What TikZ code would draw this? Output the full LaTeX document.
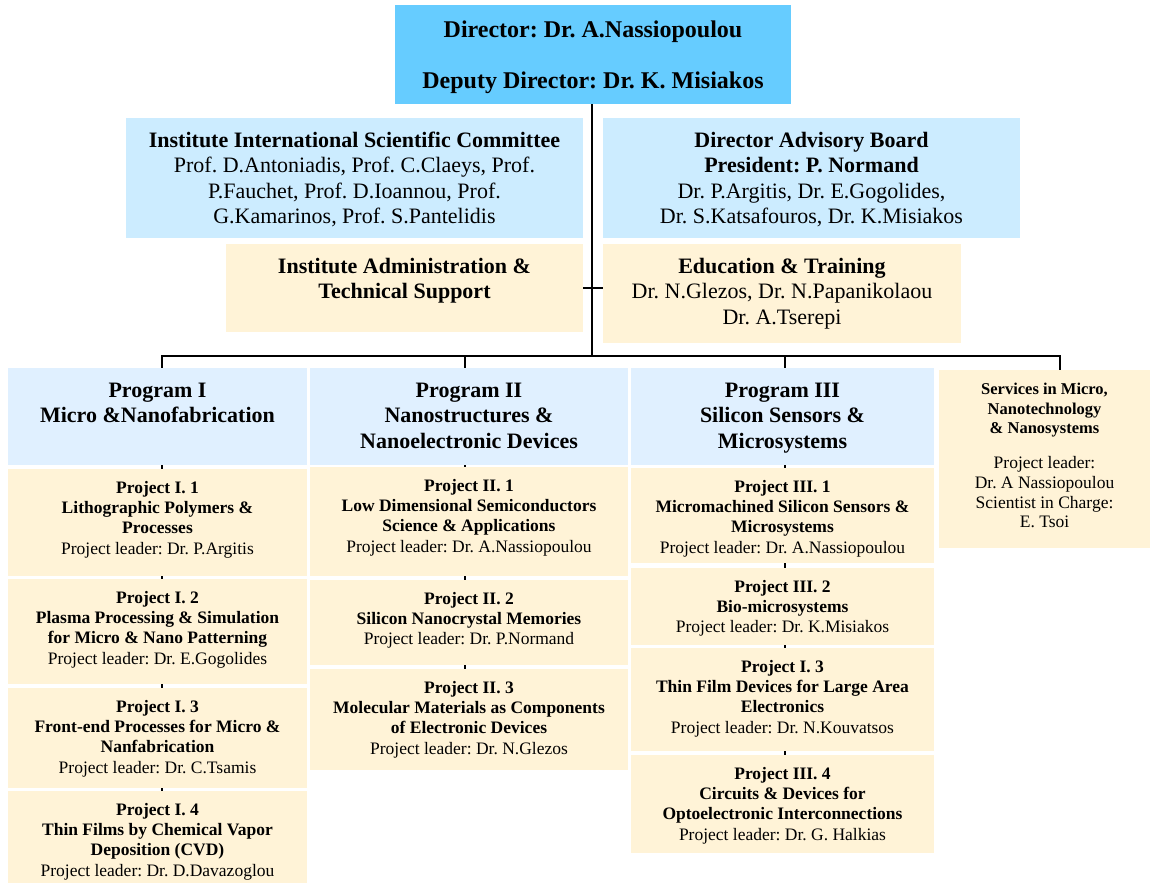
\documentclass[tikz,border=0pt]{standalone}
\usepackage{fontspec}
\setmainfont{Liberation Serif}
\usetikzlibrary{backgrounds}
\definecolor{dirblue}{RGB}{102,204,255}
\definecolor{boardblue}{RGB}{204,236,255}
\definecolor{progblue}{RGB}{224,240,255}
\definecolor{cream}{RGB}{255,243,215}
\frenchspacing
\newcommand{\mycell}[4]{\parbox[c][#2pt][t]{#1pt}{\centering\vspace*{#3pt}\strut#4}}
\begin{document}
\begin{tikzpicture}[x=1pt,y=-1pt,
  cell/.style={inner sep=0pt,outer sep=0pt,anchor=north west},
  big/.style={cell,font=\fontsize{22}{25.3}\selectfont},
  bigb/.style={cell,font=\fontsize{22}{25.3}\selectfont\bfseries},
  small/.style={cell,font=\fontsize{17.5}{20.2}\selectfont},
  conn/.style={draw=black,line width=1.2pt}]
\useasboundingbox (0,0) rectangle (1150,883);
% top level
\node[cell,fill=dirblue,font=\fontsize{24}{27.6}\selectfont\bfseries] (dir) at (395,5)
  {\mycell{396}{99}{12.7}{Director: Dr. A.Nassiopoulou\\[23.4pt] Deputy Director: Dr. K. Misiakos}};
\node[big,fill=boardblue] (com) at (126,118)
  {\mycell{457}{120}{11.8}{{\bfseries Institute International Scientific Committee}\\ Prof. D.Antoniadis, Prof. C.Claeys, Prof.\\ P.Fauchet, Prof. D.Ioannou, Prof.\\ G.Kamarinos, Prof. S.Pantelidis}};
\node[big,fill=boardblue] (adv) at (603,118)
  {\mycell{417}{120}{11.8}{{\bfseries Director Advisory Board\\ President: P. Normand}\\ Dr. P.Argitis, Dr. E.Gogolides,\\ Dr. S.Katsafouros, Dr. K.Misiakos}};
\node[bigb,fill=cream] (adm) at (226,244)
  {\mycell{357}{88}{11.8}{Institute Administration \&\\ Technical Support}};
\node[big,fill=cream] (edu) at (603,244)
  {\mycell{358}{99}{11.8}{{\bfseries Education \& Training}\\ Dr. N.Glezos, Dr. N.Papanikolaou\\ Dr. A.Tserepi}};
% programs
\node[bigb,fill=progblue] (p1) at (8,368)
  {\mycell{299}{97}{11.8}{Program I\\ Micro \&Nanofabrication}};
\node[bigb,fill=progblue] (p2) at (310,368)
  {\mycell{318}{97}{11.8}{Program II\\ Nanostructures \&\\ Nanoelectronic Devices}};
\node[bigb,fill=progblue] (p3) at (631,368)
  {\mycell{303}{97}{11.8}{Program III\\ Silicon Sensors \&\\ Microsystems}};
\node[cell,fill=cream,font=\fontsize{17.5}{19.6}\selectfont] (sv) at (939,370)
  {\mycell{211}{178}{10.8}{{\fontsize{16.5}{19.6}\selectfont\bfseries Services in Micro,\\ Nanotechnology\\ \& Nanosystems}\\[15.5pt] Project leader:\\ Dr. A Nassiopoulou\\ Scientist in Charge:\\ E. Tsoi}};
% program I projects
\node[small,fill=cream] (i1) at (8,469)
  {\mycell{299}{107}{10.4}{{\bfseries Project I. 1\\ Lithographic Polymers \&\\ Processes}\\ Project leader: Dr. P.Argitis}};
\node[small,fill=cream] (i2) at (8,579)
  {\mycell{299}{105}{10.4}{{\bfseries Project I. 2\\ Plasma Processing \& Simulation\\ for Micro \& Nano Patterning}\\ Project leader: Dr. E.Gogolides}};
\node[small,fill=cream] (i3) at (8,688)
  {\mycell{299}{100}{10.4}{{\bfseries Project I. 3\\ Front-end Processes for Micro \&\\ Nanfabrication}\\ Project leader: Dr. C.Tsamis}};
\node[small,fill=cream] (i4) at (8,791)
  {\mycell{299}{92}{10.4}{{\bfseries Project I. 4\\ Thin Films by Chemical Vapor\\ Deposition (CVD)}\\ Project leader: Dr. D.Davazoglou}};
% program II projects
\node[small,fill=cream] (ii1) at (310,467)
  {\mycell{318}{109}{10.4}{{\bfseries Project II. 1\\ Low Dimensional Semiconductors\\ Science \& Applications}\\ Project leader: Dr. A.Nassiopoulou}};
\node[small,fill=cream] (ii2) at (310,580)
  {\mycell{318}{85}{10.4}{{\bfseries Project II. 2\\ Silicon Nanocrystal Memories}\\ Project leader: Dr. P.Normand}};
\node[small,fill=cream] (ii3) at (310,669)
  {\mycell{318}{101}{10.4}{{\bfseries Project II. 3\\ Molecular Materials as Components\\ of Electronic Devices}\\ Project leader: Dr. N.Glezos}};
% program III projects
\node[small,fill=cream] (iii1) at (631,468)
  {\mycell{303}{95}{10.4}{{\bfseries Project III. 1\\ Micromachined Silicon Sensors \&\\ Microsystems}\\ Project leader: Dr. A.Nassiopoulou}};
\node[small,fill=cream] (iii2) at (631,568)
  {\mycell{303}{77}{10.4}{{\bfseries Project III. 2\\ Bio-microsystems}\\ Project leader: Dr. K.Misiakos}};
\node[small,fill=cream] (iii3) at (631,648)
  {\mycell{303}{103}{10.4}{{\bfseries Project I. 3\\ Thin Film Devices for Large Area\\ Electronics}\\ Project leader: Dr. N.Kouvatsos}};
\node[small,fill=cream] (iii4) at (631,755)
  {\mycell{303}{98}{10.4}{{\bfseries Project III. 4\\ Circuits \& Devices for\\ Optoelectronic Interconnections}\\ Project leader: Dr. G. Halkias}};
% connectors
\coordinate (hub) at (592,356);
\coordinate (c1) at (162,356);
\coordinate (c2) at (465,356);
\coordinate (c3) at (785,356);
\coordinate (c4) at (1060,356);
\begin{pgfonlayer}{background}
\draw[conn] (dir.south -| hub) -- (hub);
\draw[conn] (adm.east) -- (adm.east -| edu.west);
\draw[conn] (c1 |- p1.north) -- (c1) -- (c4) -- (c4 |- sv.north);
\draw[conn] (c1) -- (c1 |- i4.north);
\draw[conn] (c2) -- (c2 |- ii3.north);
\draw[conn] (c3) -- (c3 |- iii4.north);
\end{pgfonlayer}
\end{tikzpicture}
\end{document}
